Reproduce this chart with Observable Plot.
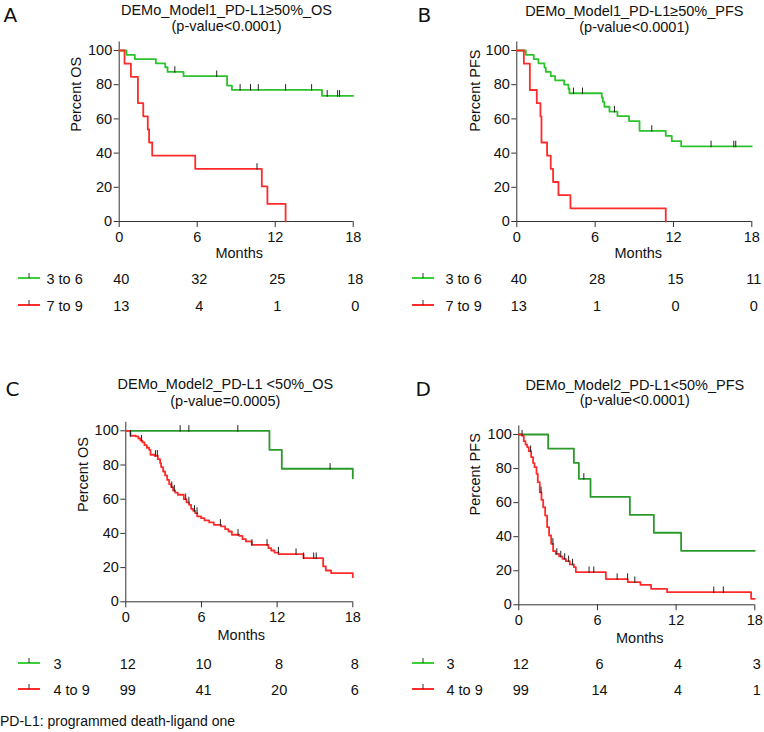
<!DOCTYPE html>
<html><head><meta charset="utf-8">
<script src="https://cdn.jsdelivr.net/npm/d3@7"></script>
<script src="https://cdn.jsdelivr.net/npm/@observablehq/plot@0.6"></script>
<style>
body{margin:0;background:#fff;}
#root{position:relative;width:764px;height:732px;overflow:hidden;font-family:"Liberation Sans",Arial,Helvetica,sans-serif;color:#111;}
.panel{position:absolute;}
#foot{position:absolute;left:0;top:713px;font-size:14px;line-height:16px;white-space:nowrap;}
</style></head><body><div id="root"><div id="foot">PD-L1: programmed death-ligand one</div></div>
<script>
// ---------- shared ticks ----------
const monthTicks = [0, 6, 12, 18];
const pctTicks = [0, 20, 40, 60, 80, 100];

// ---------- Panel A: Model1 PD-L1>=50% OS ----------
const aTitle = "DEMo_Model1_PD-L1≥50%_OS";
const aP = "(p-value<0.0001)";
const aGroups = ["3 to 6", "7 to 9"];
const aGreenT = [0, 0.56, 1.2, 2.82, 3.54, 3.72, 4.95, 8.3, 8.67, 15.6, 18];
const aGreenS = [100, 97.5, 95, 92.5, 90.2, 87.5, 85, 79.5, 77, 73.5, 73.5];
const aGreenC = [4.28, 7.5, 9.3, 10.1, 10.7, 12.8, 14.8, 16.0, 16.8, 16.95];
const aRedT = [0, 0.41, 0.9, 1.44, 1.85, 2.2, 2.3, 2.54, 5.85, 10.97, 11.4, 12.8];
const aRedS = [100, 92.3, 84.6, 69.2, 61.5, 53.8, 46.2, 38.5, 30.8, 20.5, 10.3, 0];
const aRedC = [10.6];
const aRiskG = [40, 32, 25, 18];
const aRiskR = [13, 4, 1, 0];

// ---------- Panel B: Model1 PD-L1>=50% PFS ----------
const bTitle = "DEMo_Model1_PD-L1≥50%_PFS";
const bP = "(p-value<0.0001)";
const bGroups = ["3 to 6", "7 to 9"];
const bGreenT = [0, 0.69, 1.3, 1.66, 2.12, 2.22, 2.6, 2.94, 3.63, 3.96, 4.03, 6.51, 6.59, 6.71, 7.1, 7.71, 8.6, 9.4, 11.41, 11.87, 12.59, 18];
const bGreenS = [100, 97.5, 95, 92.5, 90, 87.5, 85, 82.5, 80, 77.5, 75, 72.5, 70, 67.1, 64.3, 61.6, 58.7, 53, 50.1, 47, 43.9, 43.9];
const bGreenC = [4.34, 5.03, 7.48, 10.34, 14.88, 16.62, 16.77];
const bRedT = [0, 0.54, 1.0, 1.53, 1.81, 1.89, 2.32, 2.6, 2.78, 3.19, 4.11, 11.41];
const bRedS = [100, 92.3, 76.9, 69.2, 61.5, 46.2, 38.5, 30.8, 23.1, 15.4, 7.7, 0];
const bRedC = [];
const bRiskG = [40, 28, 15, 11];
const bRiskR = [13, 1, 0, 0];

// ---------- Panel C: Model2 PD-L1<50% OS ----------
const cTitle = "DEMo_Model2_PD-L1 <50%_OS";
const cP = "(p-value=0.0005)";
const cGroups = ["3", "4 to 9"];
const cGreenT = [0, 11.39, 12.37, 18, 18];
const cGreenS = [100, 88.9, 77.8, 77.8, 72.2];
const cGreenC = [4.31, 5.0, 8.88, 16.2];
const cRedT = [0, 0.37, 0.79, 1.0, 1.16, 1.32, 1.48, 1.67, 1.85, 1.96, 2.27, 2.54, 2.72, 2.8, 2.96, 3.12, 3.28, 3.44, 3.6, 3.75, 3.91, 4.12, 4.6, 4.81, 5.02, 5.18, 5.34, 5.5, 5.66, 5.97, 6.24, 6.61, 6.98, 7.56, 7.88, 8.14, 8.41, 8.99, 9.25, 9.52, 9.99, 11.31, 11.53, 11.79, 12.11, 14.09, 15.65, 15.86, 16.28, 18, 18];
const cRedS = [100, 97.1, 96.7, 95.5, 94.3, 93.2, 91.6, 90.1, 88.9, 86.0, 85.4, 83.4, 81.1, 78.8, 76.2, 73.9, 71.3, 68.8, 67.1, 65.1, 63.9, 62.6, 60.0, 58.1, 56.7, 54.4, 53.2, 51.9, 49.9, 48.9, 47.6, 46.4, 45.0, 44.1, 42.5, 41.1, 39.2, 38.6, 36.6, 35.3, 33.3, 31.4, 30.0, 28.8, 27.9, 25.5, 20.7, 18.3, 16.8, 16.8, 14.4];
const cRedC = [0.37, 1.25, 2.35, 2.5, 3.65, 3.85, 4.75, 5.0, 5.45, 5.65, 7.5, 8.9, 10.0, 11.2, 12.1, 13.5, 14.1, 14.9, 15.1];
const cRiskG = [12, 10, 8, 8];
const cRiskR = [99, 41, 20, 6];

// ---------- Panel D: Model2 PD-L1<50% PFS ----------
const dTitle = "DEMo_Model2_PD-L1<50%_PFS";
const dP = "(p-value<0.0001)";
const dGroups = ["3", "4 to 9"];
const dGreenT = [0, 2.24, 4.2, 4.58, 5.47, 8.47, 10.3, 12.38, 18];
const dGreenS = [100, 91.7, 83.3, 74.0, 63.4, 52.8, 42.3, 31.7, 31.7];
const dGreenC = [4.96];
const dRedT = [0, 0.25, 0.38, 0.51, 0.64, 0.76, 0.94, 1.09, 1.2, 1.35, 1.45, 1.6, 1.73, 1.86, 2.01, 2.16, 2.31, 2.47, 2.62, 2.82, 3.08, 3.33, 3.59, 3.89, 4.2, 4.35, 6.64, 8.31, 9.28, 10.09, 11.31, 17.72, 18];
const dRedS = [100, 99.4, 96.1, 94.1, 92.6, 90.2, 86.7, 83.2, 80.8, 76.9, 72.0, 66.1, 61.6, 57.3, 52.4, 45.6, 40.7, 35.8, 31.5, 29.9, 28.4, 27.0, 25.6, 23.7, 22.1, 19.2, 15.1, 13.3, 11.7, 9.4, 7.4, 3.5, 3.5];
const dRedC = [0.25, 0.9, 1.7, 2.6, 2.9, 3.2, 3.5, 3.8, 4.1, 5.36, 5.72, 7.5, 8.3, 8.85, 14.87, 15.6];
const dRiskG = [12, 6, 4, 3];
const dRiskR = [99, 14, 4, 1];

// ---------- helpers ----------
const FONT = '"Liberation Sans", Arial, Helvetica, sans-serif';
const RED = "#ff2a2a";
const toRows = (T, S) => T.map((t, i) => ({t, s: S[i]}));
const survAt = (T, S, x) => { let v = S[0]; for (let i = 0; i < T.length; i++) if (T[i] <= x) v = S[i]; return v; };
const censRows = (T, S, C) => C.map(t => ({t, s: survAt(T, S, t)}));
const tickUp = {draw(ctx, size) { const h = Math.sqrt(size); ctx.moveTo(0, h * 0.15); ctx.lineTo(0, -h); }};

function panel(o) {
  const swatch = (index, scales, values, dims) => {
    const g = d3.create("svg:g");
    const y0 = dims.height - dims.marginBottom;
    [[o.rowDy[0], o.swGreen], [o.rowDy[1], RED]].forEach(([dy, col]) => {
      const y = y0 + dy - 5;
      g.append("line").attr("x1", o.sw[0]).attr("x2", o.sw[1]).attr("y1", y).attr("y2", y)
        .attr("stroke", col).attr("stroke-width", 2);
      const xm = (o.sw[0] + o.sw[1]) / 2;
      g.append("line").attr("x1", xm).attr("x2", xm).attr("y1", y).attr("y2", y - 5)
        .attr("stroke", "#333").attr("stroke-width", 1);
    });
    return g.node();
  };
  const riskG = monthTicks.map((t, i) => ({t, n: o.riskG[i]}));
  const riskR = monthTicks.map((t, i) => ({t, n: o.riskR[i]}));
  const svg = Plot.plot({
    width: o.w, height: o.h,
    marginLeft: o.m[0], marginRight: o.m[1], marginTop: o.m[2], marginBottom: o.m[3],
    style: {fontFamily: FONT, fontSize: "14px", color: "#111", background: "transparent", maxWidth: "none", overflow: "visible"},
    x: {domain: [0, 18]},
    y: {domain: [0, 105]},
    marks: [
      Plot.axisX({ticks: monthTicks, tickSize: 6, tickPadding: 4, label: null, stroke: "#333", fontSize: 14.5}),
      Plot.axisY({ticks: pctTicks, tickSize: 5, tickPadding: 2, label: null, stroke: "#333", fontSize: 14.5}),
      Plot.ruleX([0], {stroke: "#333"}),
      Plot.ruleY([0], {stroke: "#333"}),
      Plot.line(toRows(o.gT, o.gS), {x: "t", y: "s", curve: "step-after", stroke: o.green, strokeWidth: 1.8}),
      Plot.line(toRows(o.rT, o.rS), {x: "t", y: "s", curve: "step-after", stroke: RED, strokeWidth: 1.8}),
      Plot.dot(censRows(o.gT, o.gS, o.gC), {x: "t", y: "s", symbol: tickUp, r: 3.2, stroke: "#222", fill: "none", strokeWidth: 1}),
      Plot.dot(censRows(o.rT, o.rS, o.rC), {x: "t", y: "s", symbol: tickUp, r: 3.2, stroke: "#222", fill: "none", strokeWidth: 1}),
      Plot.text([o.title], {text: d => d, frameAnchor: "top", dx: o.titleDx, dy: o.titleDy[0], lineAnchor: "bottom", fontSize: 14.5}),
      Plot.text([o.p], {text: d => d, frameAnchor: "top", dx: o.titleDx, dy: o.titleDy[1], lineAnchor: "bottom", fontSize: 14.5}),
      Plot.text([o.letter], {text: d => d, frameAnchor: "top-left", textAnchor: "start", dx: o.letterD[0], dy: o.letterD[1], lineAnchor: "bottom", fontSize: 20, fontFamily: '"DejaVu Sans", sans-serif'}),
      Plot.text([o.ylabel], {text: d => d, frameAnchor: "left", rotate: -90, dx: o.ylabDx, lineAnchor: "bottom", fontSize: 14.5}),
      Plot.text(["Months"], {text: d => d, frameAnchor: "bottom", dx: o.monthsD[0], dy: o.monthsD[1], lineAnchor: "bottom", fontSize: 14.5}),
      Plot.text(riskG, {x: "t", text: "n", frameAnchor: "bottom", dx: 2, dy: o.rowDy[0], lineAnchor: "bottom", fontSize: 14.5}),
      Plot.text(riskR, {x: "t", text: "n", frameAnchor: "bottom", dx: 2, dy: o.rowDy[1], lineAnchor: "bottom", fontSize: 14.5}),
      Plot.text([o.groups[0]], {text: d => d, frameAnchor: "bottom-left", textAnchor: "start", dx: o.labDx, dy: o.rowDy[0], lineAnchor: "bottom", fontSize: 14.5}),
      Plot.text([o.groups[1]], {text: d => d, frameAnchor: "bottom-left", textAnchor: "start", dx: o.labDx, dy: o.rowDy[1], lineAnchor: "bottom", fontSize: 14.5}),
      swatch
    ]
  });
  svg.classList.add("panel");
  svg.style.left = o.left + "px";
  svg.style.top = o.top + "px";
  document.getElementById("root").appendChild(svg);
}

panel({left: 0, top: 0, w: 382, h: 330, m: [118.7, 29.3, 41.45, 109],
  title: aTitle, p: aP, titleDx: -9.7, titleDy: [-27.4, -10.9], letter: "A", letterD: [-115.7, -20.4],
  ylabel: "Percent OS", ylabDx: -38.7, monthsD: [3, 36.5], rowDy: [62, 89], labDx: -72.7, sw: [18, 40],
  groups: aGroups, green: "#2cc22c", swGreen: "#3ccf3c", gT: aGreenT, gS: aGreenS, gC: aGreenC, rT: aRedT, rS: aRedS, rC: aRedC,
  riskG: aRiskG, riskR: aRiskR});
panel({left: 382, top: 0, w: 382, h: 330, m: [134.3, 12.7, 41.45, 109],
  title: bTitle, p: bP, titleDx: 0, titleDy: [-26.4, -10.4], letter: "B", letterD: [-99.3, -20.4],
  ylabel: "Percent PFS", ylabDx: -37.3, monthsD: [4, 36], rowDy: [62, 89], labDx: -71.3, sw: [30, 52],
  groups: bGroups, green: "#2cc22c", swGreen: "#3ccf3c", gT: bGreenT, gS: bGreenS, gC: bGreenC, rT: bRedT, rS: bRedS, rC: bRedC,
  riskG: bRiskG, riskR: bRiskR});
panel({left: 0, top: 330, w: 382, h: 402, m: [125.3, 29.7, 91.75, 130.7],
  title: cTitle, p: cP, titleDx: -14, titleDy: [-33.7, -16.7], letter: "C", letterD: [-120.3, -26.7],
  ylabel: "Percent OS", ylabDx: -38.3, monthsD: [2, 38.4], rowDy: [66.7, 92.7], labDx: -72.3, sw: [18, 40],
  groups: cGroups, green: "#2a9a2a", swGreen: "#3ccf3c", gT: cGreenT, gS: cGreenS, gC: cGreenC, rT: cRedT, rS: cRedS, rC: cRedC,
  riskG: cRiskG, riskR: cRiskR});
panel({left: 382, top: 330, w: 382, h: 402, m: [136.3, 9.7, 95.5, 127.7],
  title: dTitle, p: dP, titleDx: -2, titleDy: [-36.5, -21], letter: "D", letterD: [-103.3, -30.5],
  ylabel: "Percent PFS", ylabDx: -39.3, monthsD: [3, 37.7], rowDy: [63.7, 89.7], labDx: -72.3, sw: [30, 52],
  groups: dGroups, green: "#2a9a2a", swGreen: "#3ccf3c", gT: dGreenT, gS: dGreenS, gC: dGreenC, rT: dRedT, rS: dRedS, rC: dRedC,
  riskG: dRiskG, riskR: dRiskR});
</script>
</body></html>
